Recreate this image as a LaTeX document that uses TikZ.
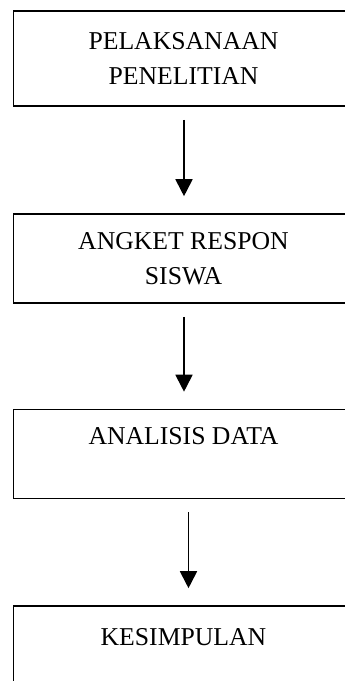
\documentclass[tikz,border=0pt]{standalone}
\usepackage{fontspec}
\setmainfont{Liberation Serif}
\usetikzlibrary{arrows.meta}

\tikzset{
	box/.style={draw, line width=1.6pt, minimum width=340pt, minimum height=89pt,
		inner sep=0pt, align=center, font=\fontsize{25.7}{35}\selectfont},
	arr/.style={line width=1.8pt, -{Triangle[length=17pt,width=17pt]}, shorten <=13pt, shorten >=17pt}
}

\begin{document}
\begin{tikzpicture}[x=1pt, y=-1pt]
	\useasboundingbox (0, 0) rectangle (345, 681);
	\clip (0, 0) rectangle (345, 681);

	\node[box, minimum height=95pt] (pel) at (183.5, 58.5) {PELAKSANAAN\\PENELITIAN};
	\node[box] (ang) at (183.5, 258.5) {ANGKET RESPON\\SISWA};
	\node[box] (ana) at (183.5, 454) {ANALISIS DATA\\[-10pt]\strut};
	\node[box] (kes) at (183.5, 650.5) {KESIMPULAN\\[-18pt]\strut};

	\draw[arr] ([xshift=0.5pt]pel.south) -- ([xshift=0.5pt]ang.north);
	\draw[arr] ([xshift=0.5pt]ang.south) -- ([xshift=0.5pt]ana.north);
	\draw[arr] ([xshift=5pt]ana.south) -- ([xshift=5pt]kes.north);
\end{tikzpicture}
\end{document}
